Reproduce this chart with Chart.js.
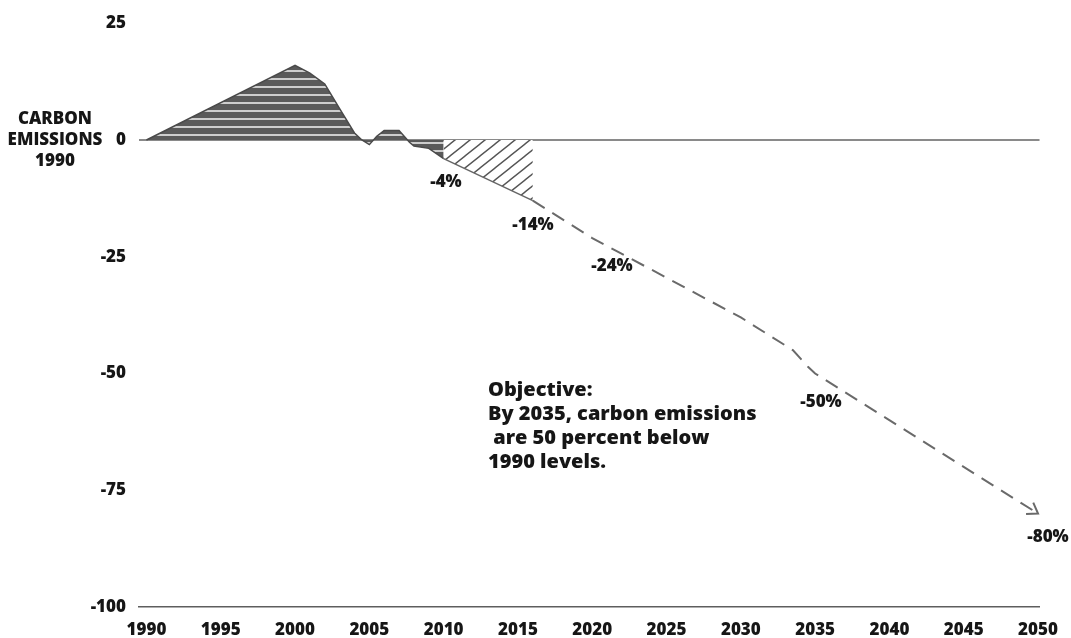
<!DOCTYPE html>
<html>
<head>
<meta charset="utf-8">
<script src="https://cdn.jsdelivr.net/npm/chart.js@4.4.1/dist/chart.umd.min.js"></script>
<style>
    html, body { margin: 0; padding: 0; background: #fff; }
    #chart { display: block; }
</style>
</head>
<body>
<canvas id="chart" width="1071" height="638"></canvas>
<script>
// Emissions relative to 1990 (percent)
const histYears = [1990, 2000, 2001, 2002, 2003, 2004, 2004.5, 2005, 2005.5, 2006, 2007, 2007.7, 2008, 2009, 2010];
const histValues = [0, 16, 14.3, 12, 6.7, 1.5, 0, -1, 0.8, 2, 2, -0.5, -1.3, -1.8, -4];

const hatchYears = [2010, 2016];
const hatchValues = [-4, -13];

const targetYears = [2016, 2020, 2025, 2030, 2033.5, 2034.5, 2035, 2050];
const targetValues = [-13, -21, -29.5, -38, -45, -48.5, -50, -80];

const xTicks = [1990, 1995, 2000, 2005, 2010, 2015, 2020, 2025, 2030, 2035, 2040, 2045, 2050];
const yTicks = [25, 0, -25, -50, -75, -100];

const pctLabels = ['-4%', '-14%', '-24%', '-50%', '-80%'];
const axisTitle = ['CARBON', 'EMISSIONS', '1990'];
const objectiveLines = ['Objective:', 'By 2035, carbon emissions', ' are 50 percent below', '1990 levels.'];

const FONT = "'Open Sans', 'DejaVu Sans', sans-serif";
const INK = '#161616';

function toPoints(xs, ys) {
    return xs.map((x, i) => ({ x: x, y: ys[i] }));
}

function stripePattern() {
    const c = document.createElement('canvas');
    c.width = 8; c.height = 8;
    const g = c.getContext('2d');
    g.fillStyle = '#5a5a5a';
    g.fillRect(0, 0, 8, 8);
    g.fillStyle = '#cdcdcd';
    g.fillRect(0, 6, 8, 2);
    return g.createPattern(c, 'repeat');
}

function hatchPattern() {
    const w = 15, h = 12;
    const c = document.createElement('canvas');
    c.width = w; c.height = h;
    const g = c.getContext('2d');
    g.fillStyle = '#fff';
    g.fillRect(0, 0, w, h);
    g.strokeStyle = '#555';
    g.lineWidth = 1.4;
    g.beginPath();
    g.moveTo(-w, 2 * h); g.lineTo(2 * w, -h);
    g.moveTo(-2 * w, 2 * h); g.lineTo(w, -h);
    g.moveTo(0, 2 * h); g.lineTo(3 * w, -h);
    g.stroke();
    return g.createPattern(c, 'repeat');
}

// Text, arrowhead and the left title
const notesPlugin = {
    id: 'notes',
    afterDatasetsDraw(chart) {
        const ctx = chart.ctx;
        const xs = chart.scales.x, ys = chart.scales.y;
        ctx.save();

        // arrowhead at the end of the target line
        const n = targetYears.length;
        const tx = xs.getPixelForValue(targetYears[n - 1]), ty = ys.getPixelForValue(targetValues[n - 1]);
        const px = xs.getPixelForValue(targetYears[n - 2]), py = ys.getPixelForValue(targetValues[n - 2]);
        const ang = Math.atan2(ty - py, tx - px);
        ctx.strokeStyle = '#6a6a6a';
        ctx.lineWidth = 2;
        ctx.beginPath();
        ctx.moveTo(tx - 12 * Math.cos(ang - 0.6), ty - 12 * Math.sin(ang - 0.6));
        ctx.lineTo(tx, ty);
        ctx.lineTo(tx - 12 * Math.cos(ang + 0.6), ty - 12 * Math.sin(ang + 0.6));
        ctx.stroke();

        ctx.fillStyle = INK;
        ctx.textBaseline = 'middle';

        // percent labels
        ctx.textAlign = 'center';
        ctx.font = '800 17px ' + FONT;
        const pctPos = [[446, 182], [533, 225], [612, 266], [821, 402], [1048, 537]];
        pctLabels.forEach((t, i) => ctx.fillText(t, pctPos[i][0], pctPos[i][1]));

        // title next to the zero line
        const y0 = ys.getPixelForValue(0);
        axisTitle.forEach((t, i) => ctx.fillText(t, 55, y0 + (i - 1) * 21));

        // objective note
        ctx.textAlign = 'left';
        ctx.font = '800 20px ' + FONT;
        objectiveLines.forEach((t, i) => ctx.fillText(t, 488, 390 + i * 24));

        ctx.restore();
    }
};

const ctx = document.getElementById('chart').getContext('2d');
const chart = new Chart(ctx, {
    type: 'line',
    data: {
        datasets: [
            {
                data: toPoints(histYears, histValues),
                borderColor: '#4a4a4a',
                borderWidth: 1.5,
                backgroundColor: stripePattern(),
                fill: 'origin',
                pointRadius: 0,
                tension: 0
            },
            {
                data: toPoints(hatchYears, hatchValues),
                borderColor: '#666',
                borderWidth: 1.5,
                backgroundColor: hatchPattern(),
                fill: 'origin',
                pointRadius: 0
            },
            {
                data: toPoints(targetYears, targetValues),
                borderColor: '#6a6a6a',
                borderWidth: 2,
                borderDash: [14, 9],
                fill: false,
                pointRadius: 0,
                tension: 0
            }
        ]
    },
    options: {
        responsive: false,
        animation: false,
        layout: { padding: { top: 19.5, right: 23, left: 0, bottom: 0 } },
        plugins: {
            legend: { display: false },
            tooltip: { enabled: false }
        },
        scales: {
            x: {
                type: 'linear',
                min: 1989.5,
                max: 2050.1,
                afterBuildTicks: function(scale) {
                    scale.ticks = xTicks.map(v => ({ value: v }));
                },
                afterFit: function(scale) {
                    scale.height = 31;
                },
                grid: { display: false, drawTicks: false },
                border: { display: true, color: '#5e5e5e', width: 1.5 },
                ticks: {
                    padding: 13,
                    color: INK,
                    font: { family: FONT, size: 17, weight: '800' },
                    callback: v => String(v)
                }
            },
            y: {
                min: -100,
                max: 25,
                afterBuildTicks: function(scale) {
                    scale.ticks = yTicks.map(v => ({ value: v }));
                },
                afterFit: function(scale) {
                    scale.width = 139;
                },
                grid: {
                    drawTicks: false,
                    lineWidth: 2,
                    color: c => (c.tick && c.tick.value === 0) ? '#8a8a8a' : 'rgba(0,0,0,0)'
                },
                border: { display: false },
                ticks: {
                    padding: 13,
                    color: INK,
                    font: { family: FONT, size: 17, weight: '800' }
                }
            }
        }
    },
    plugins: [notesPlugin]
});
</script>
</body>
</html>
